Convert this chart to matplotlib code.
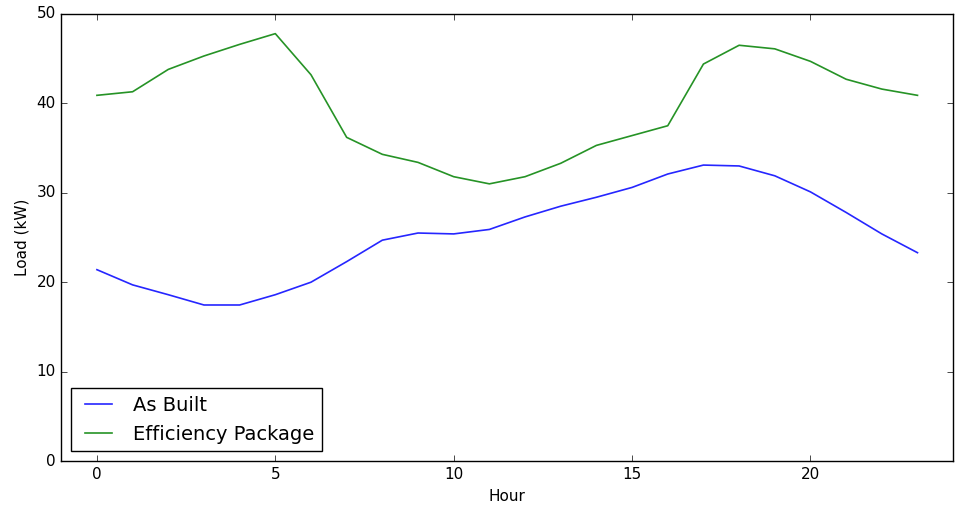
import numpy as np
import matplotlib
matplotlib.use('Agg')
from matplotlib import pyplot as plt

plt.style.use('classic')

# hourly load values
hours = list(range(24))
as_built = [21.4, 19.7, 18.6, 17.45, 17.45, 18.6, 20.0, 22.3, 24.7, 25.5, 25.4, 25.9,
            27.3, 28.5, 29.5, 30.6, 32.1, 33.1, 33.0, 31.9, 30.1, 27.8, 25.4, 23.3]
efficiency = [40.9, 41.3, 43.8, 45.3, 46.6, 47.8, 43.2, 36.2, 34.3, 33.4, 31.8, 31.0,
              31.8, 33.3, 35.3, 36.4, 37.5, 44.4, 46.5, 46.1, 44.7, 42.7, 41.6, 40.9]

fig = plt.figure(figsize=(9.57, 5.08), dpi=100, facecolor='white')
ax = fig.add_axes([0.064, 0.0925, 0.932, 0.88])

ax.plot(hours, as_built, color='b', lw=1.2, alpha=0.85, label='As Built')
ax.plot(hours, efficiency, color='g', lw=1.2, alpha=0.85, label='Efficiency Package')

ax.set_xlim(-1, 24)
ax.set_ylim(0, 50)
ax.set_xlabel('Hour', fontsize=11)
ax.set_ylabel('Load (kW)', fontsize=11)
ax.tick_params(labelsize=11)
ax.legend(loc='lower left', fontsize=14)

fig.savefig('out.png', dpi=100, facecolor='white')
